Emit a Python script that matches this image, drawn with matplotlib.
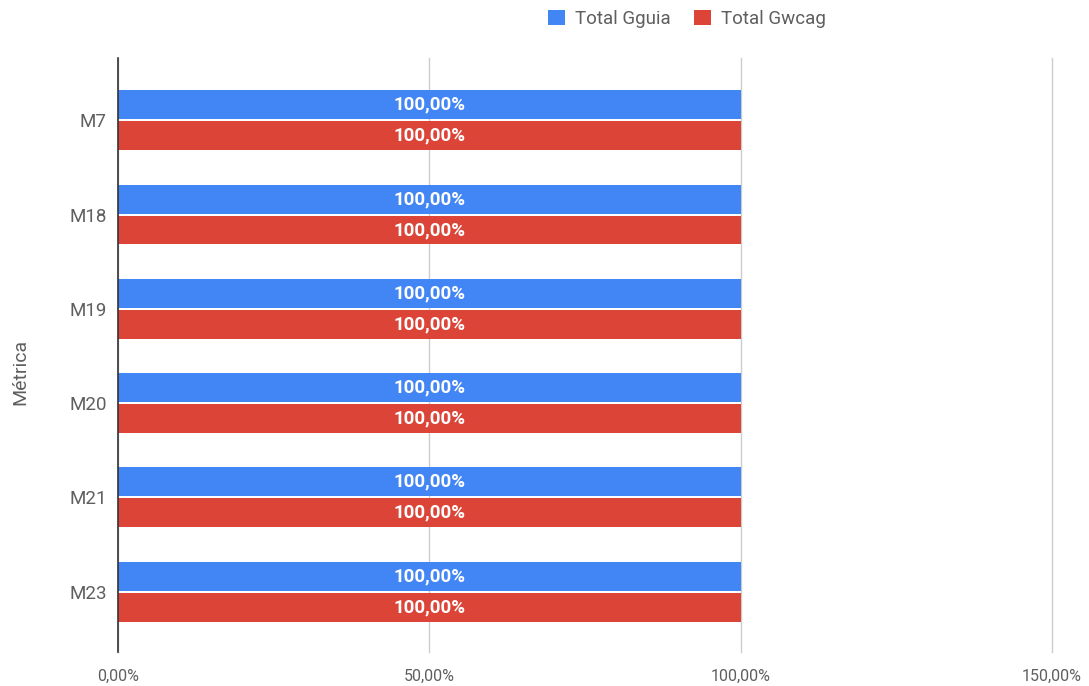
import matplotlib
matplotlib.use("Agg")
import matplotlib.pyplot as plt
import numpy as np
from matplotlib.patches import Patch

categories = ["M7", "M18", "M19", "M20", "M21", "M23"]
gguia = [1.0, 1.0, 1.0, 1.0, 1.0, 1.0]
gwcag = [1.0, 1.0, 1.0, 1.0, 1.0, 1.0]
series_names = ["Total Gguia", "Total Gwcag"]
xticks = [0, 0.5, 1.0, 1.5]
xtick_labels = ["0,00%", "50,00%", "100,00%", "150,00%"]

plt.rcParams['font.family'] = ['Roboto', 'DejaVu Sans']
BLUE = "#4285f4"
RED = "#db4437"
GRAY = "#5f5f5f"

fig = plt.figure(figsize=(10.89, 6.86), dpi=100)
ax = fig.add_axes([118/1089, 1-652/686, (1052-118)/1089, (652-58)/686])

y = np.arange(len(categories))
h = 0.307
off = 0.164
b1 = ax.barh(y - off, gguia, height=h, color=BLUE, zorder=3)
b2 = ax.barh(y + off, gwcag, height=h, color=RED, zorder=3)

def fmt(v):
    return f"{v*100:.2f}%".replace(".", ",")

for bars, vals in ((b1, gguia), (b2, gwcag)):
    for rect, v in zip(bars, vals):
        cy = rect.get_y() + rect.get_height()/2
        ax.text(rect.get_width()/2, cy, fmt(v), ha="center", va="center",
                color="white", fontsize=13.5, fontweight="bold", zorder=4)

ax.set_xlim(0, 1.5)
ax.set_ylim(len(categories) - 1 + 0.64, -0.66)
ax.set_xticks(xticks)
ax.set_xticklabels(xtick_labels, fontsize=11.5, color=GRAY)
ax.set_yticks(y)
ax.set_yticklabels(categories, fontsize=13.5, color=GRAY)
ax.tick_params(axis="both", length=0)
ax.tick_params(axis="x", pad=12)
ax.tick_params(axis="y", pad=8)
ax.grid(axis="x", color="#cccccc", linewidth=1, zorder=0)
for gl in ax.get_xgridlines():
    gl.set_clip_on(False)
for s in ["top", "right", "bottom"]:
    ax.spines[s].set_visible(False)
ax.spines["left"].set_color("#333333")
ax.spines["left"].set_linewidth(1.2)
ax.spines["left"].set_zorder(5)

fig.text(20/1089, 1-372/686, "Métrica", rotation=90, ha="center", va="center",
         fontsize=14, color=GRAY)

handles = [Patch(facecolor=BLUE, label=series_names[0]),
           Patch(facecolor=RED, label=series_names[1])]
leg = fig.legend(handles=handles, loc="center", bbox_to_anchor=(687/1089, 1-19/686),
                 ncol=2, frameon=False, fontsize=13.5, handlelength=0.9, handleheight=0.9,
                 handletextpad=0.55, columnspacing=1.25)
for t in leg.get_texts():
    t.set_color(GRAY)

fig.savefig("out.png", dpi=100)
